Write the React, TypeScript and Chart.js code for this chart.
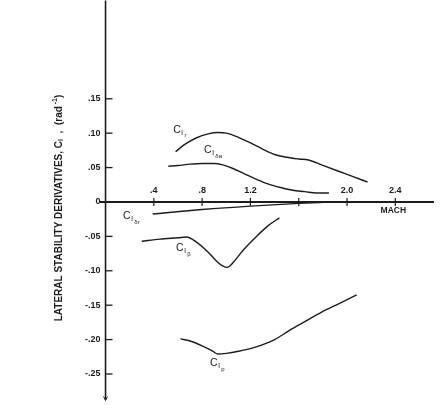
import React, { useEffect, useRef } from 'react';
import { Chart, registerables } from 'chart.js';
Chart.register(...registerables);

// ---- data (Mach number vs lateral stability derivative, rad^-1) ----
const machR = [0.58, 0.65, 0.75, 0.85, 0.93, 1.0, 1.1, 1.2, 1.3, 1.4, 1.5, 1.6, 1.68, 1.8, 1.93, 2.05, 2.17];
const clR = [0.073, 0.083, 0.093, 0.099, 0.101, 0.1, 0.094, 0.086, 0.077, 0.069, 0.065, 0.0625, 0.061, 0.0532, 0.0447, 0.0368, 0.029];

const machDa = [0.52, 0.6, 0.7, 0.8, 0.9, 0.97, 1.05, 1.15, 1.25, 1.35, 1.45, 1.55, 1.65, 1.75, 1.85];
const clDa = [0.052, 0.053, 0.055, 0.056, 0.056, 0.054, 0.049, 0.041, 0.033, 0.026, 0.021, 0.017, 0.015, 0.013, 0.013];

const machDr = [0.39, 0.8, 1.2, 1.6, 1.85];
const clDr = [-0.0175, -0.011, -0.006, -0.002, 0.0];

const machB = [0.3, 0.45, 0.6, 0.67, 0.75, 0.85, 0.92, 0.97, 1.0, 1.03, 1.08, 1.15, 1.25, 1.35, 1.44];
const clB = [-0.057, -0.054, -0.052, -0.051, -0.058, -0.073, -0.086, -0.093, -0.095, -0.093, -0.083, -0.068, -0.05, -0.034, -0.023];

const machP = [0.62, 0.7, 0.8, 0.88, 0.93, 1.0, 1.1, 1.24, 1.4, 1.52, 1.65, 1.79, 1.93, 2.08];
const clP = [-0.199, -0.202, -0.209, -0.216, -0.221, -0.22, -0.217, -0.211, -0.2, -0.187, -0.174, -0.16, -0.148, -0.135];

const xTickValues = [0.4, 0.8, 1.2, 1.6, 2.0, 2.4];
const xTickLabels = ['.4', '.8', '1.2', '', '2.0', '2.4'];
const yTickValues = [0.15, 0.1, 0.05, 0, -0.05, -0.1, -0.15, -0.2, -0.25];
const yTickLabels = ['.15', '.10', '.05', '0', '-.05', '-.10', '-.15', '-.20', '-.25'];

const seriesNames = ['r', 'δa', 'δr', 'β', 'p'];
// curve label anchor points in data units (Mach, value)
const labelMach = [0.56, 0.816, 0.145, 0.584, 0.866];
const labelValue = [0.105, 0.0756, -0.0203, -0.067, -0.234];

const xAxisTitle = 'MACH';
const yAxisTitle = 'LATERAL STABILITY DERIVATIVES, C';

const INK = '#1c1c1c';
const FONT = '"Liberation Sans", Arial, sans-serif';

const toPts = (xs: number[], ys: number[]) => xs.map((x, i) => ({ x, y: ys[i] }));

export default function App() {
  const ref = useRef<HTMLCanvasElement>(null);
  useEffect(() => {
    const canvas = ref.current!;
    const plugin = {
      id: 'manualAxes',
      beforeDatasetsDraw(chart: any) {
        const { ctx, scales, chartArea } = chart;
        const xs = scales.x, ys = scales.y;
        const x0 = xs.getPixelForValue(0);
        const y0 = ys.getPixelForValue(0);
        ctx.save();
        ctx.strokeStyle = INK;
        ctx.fillStyle = INK;
        // x axis
        ctx.lineWidth = 2;
        ctx.beginPath();
        ctx.moveTo(chartArea.left, y0);
        ctx.lineTo(xs.getPixelForValue(2.72), y0);
        ctx.stroke();
        // y axis
        ctx.lineWidth = 1.6;
        ctx.beginPath();
        ctx.moveTo(x0, chartArea.top);
        ctx.lineTo(x0, chartArea.bottom - 2);
        ctx.stroke();
        // small arrow at bottom of y axis
        ctx.lineWidth = 1;
        ctx.beginPath();
        ctx.moveTo(x0 - 2, chartArea.bottom - 5);
        ctx.lineTo(x0, chartArea.bottom - 1);
        ctx.lineTo(x0 + 2, chartArea.bottom - 5);
        ctx.stroke();
        // y ticks
        ctx.font = `bold 9px ${FONT}`;
        ctx.textAlign = 'right';
        ctx.textBaseline = 'middle';
        yTickValues.forEach((v, i) => {
          const py = ys.getPixelForValue(v);
          ctx.lineWidth = 1.3;
          if (v !== 0) {
            ctx.beginPath();
            ctx.moveTo(x0, py);
            ctx.lineTo(x0 + 7, py);
            ctx.stroke();
          }
          ctx.fillText(yTickLabels[i], x0 - 5, py);
        });
        // x ticks
        ctx.textAlign = 'center';
        ctx.textBaseline = 'alphabetic';
        xTickValues.forEach((v, i) => {
          const px = xs.getPixelForValue(v);
          ctx.lineWidth = 1.2;
          ctx.beginPath();
          ctx.moveTo(px, y0 - 4);
          ctx.lineTo(px, y0 + 4);
          ctx.stroke();
          if (xTickLabels[i]) ctx.fillText(xTickLabels[i], px, y0 - 9);
        });
        // x title
        ctx.font = `bold 8.5px ${FONT}`;
        ctx.textBaseline = 'middle';
        ctx.fillText(xAxisTitle, xs.getPixelForValue(2.4) - 2, y0 + 9);
        // y title (rotated)
        ctx.save();
        ctx.translate(59, 208);
        ctx.rotate(-Math.PI / 2);
        ctx.textAlign = 'left';
        ctx.textBaseline = 'middle';
        const f1 = `bold 10px ${FONT}`;
        const f2 = `bold 7px ${FONT}`;
        const parts: [string, string, number][] = [
          [yAxisTitle, f1, 0],
          ['l', f2, 2.5],
          ['  ,  (rad', f1, 0],
          [' -1', f2, -3.5],
          [')', f1, 0],
        ];
        let total = 0;
        parts.forEach(([t, f]) => { ctx.font = f; total += ctx.measureText(t).width; });
        let cx = -total / 2;
        parts.forEach(([t, f, dy]) => {
          ctx.font = f;
          ctx.fillText(t, cx, dy);
          cx += ctx.measureText(t).width;
        });
        ctx.restore();
        ctx.restore();
      },
      afterDatasetsDraw(chart: any) {
        const { ctx, scales } = chart;
        ctx.save();
        ctx.fillStyle = INK;
        ctx.textAlign = 'left';
        ctx.textBaseline = 'middle';
        seriesNames.forEach((s, i) => {
          const px = scales.x.getPixelForValue(labelMach[i]);
          const py = scales.y.getPixelForValue(labelValue[i]);
          ctx.font = `10.5px ${FONT}`;
          ctx.fillText('C', px, py);
          let cx = px + ctx.measureText('C').width + 0.5;
          ctx.font = `7.5px ${FONT}`;
          ctx.fillText('l', cx, py + 3);
          cx += ctx.measureText('l').width + 1.5;
          ctx.font = `6px ${FONT}`;
          ctx.fillText(s, cx, py + 6);
        });
        ctx.restore();
      },
    };

    const ds = (xs: number[], ys: number[]) => ({
      data: toPts(xs, ys),
      borderColor: INK,
      borderWidth: 1.4,
      pointRadius: 0,
      fill: false,
      cubicInterpolationMode: 'monotone' as const,
    });

    const chart = new Chart(canvas, {
      type: 'line',
      data: {
        datasets: [
          ds(machR, clR),
          ds(machDa, clDa),
          ds(machDr, clDr),
          ds(machB, clB),
          ds(machP, clP),
        ],
      },
      options: {
        animation: false,
        responsive: false,
        layout: { padding: { left: 99.5, right: 6.4, top: 0.4, bottom: 3.5 } },
        plugins: { legend: { display: false }, tooltip: { enabled: false } },
        scales: {
          x: { type: 'linear', min: -0.05, max: 2.75, display: false },
          y: { type: 'linear', min: -0.29, max: 0.293, display: false },
        },
      },
      plugins: [plugin],
    });
    return () => chart.destroy();
  }, []);

  return (
    <div style={{ position: 'absolute', left: 0, top: 0, width: 444, height: 405, background: '#fff' }}>
      <canvas ref={ref} width={444} height={405} style={{ display: 'block' }} />
    </div>
  );
}
